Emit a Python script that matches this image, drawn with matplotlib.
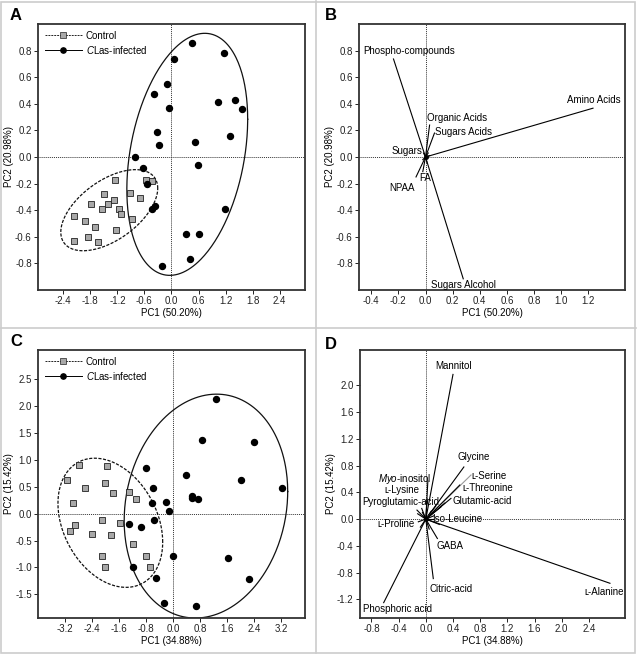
import matplotlib
matplotlib.use('Agg')
import matplotlib.pyplot as plt
from matplotlib.lines import Line2D
from matplotlib.patches import Rectangle
import numpy as np

plt.rcParams['font.family'] = ['Liberation Sans', 'DejaVu Sans']
plt.rcParams['mathtext.fontset'] = 'custom'
plt.rcParams['mathtext.rm'] = 'Liberation Sans'
plt.rcParams['mathtext.it'] = 'Liberation Sans:italic'

# ---- panel A scores (GC-MS classes)
a_ctrl_x = [-2.17, -2.17, -1.92, -1.86, -1.78, -1.69, -1.63, -1.55, -1.49, -1.40,
            -1.27, -1.25, -1.24, -1.17, -1.12, -0.92, -0.88, -0.70, -0.56, -0.44]
a_ctrl_y = [-0.44, -0.63, -0.48, -0.605, -0.35, -0.53, -0.64, -0.39, -0.28, -0.355,
            -0.32, -0.175, -0.55, -0.39, -0.43, -0.27, -0.47, -0.31, -0.17, -0.18]
a_inf_x = [0.45, 1.17, 0.06, -0.10, -0.38, -0.06, 1.04, 1.41, 1.56, -0.33, -0.27, 0.52,
           1.29, -0.80, 0.58, -0.64, -0.54, -0.37, -0.43, 1.18, 0.33, 0.62, 0.42, -0.21]
a_inf_y = [0.86, 0.785, 0.74, 0.55, 0.475, 0.37, 0.41, 0.43, 0.36, 0.19, 0.09, 0.11,
           0.155, 0.0, -0.06, -0.085, -0.20, -0.37, -0.39, -0.39, -0.58, -0.58, -0.77, -0.82]
# ellipses: center x, center y, half width, half height, correlation
a_ctrl_ell = (-1.38, -0.40, 1.075, 0.305, 0.54)
a_inf_ell = (0.35, 0.02, 1.34, 0.91, 0.29)

# ---- panel B loadings
b_names = ['Phospho-compounds', 'Sugars Alcohol', 'Amino Acids', 'Organic Acids',
           'Sugars Acids', 'Sugars', 'NPAA', 'FA']
b_x = [-0.236, 0.278, 1.234, 0.03, 0.066, -0.015, -0.07, -0.02]
b_y = [0.737, -0.916, 0.367, 0.24, 0.18, 0.03, -0.15, -0.11]
b_lab = [(-0.46, 0.795, 'left'), (0.04, -0.966, 'left'), (1.04, 0.425, 'left'),
         (0.01, 0.29, 'left'), (0.07, 0.19, 'left'), (-0.02, 0.045, 'right'),
         (-0.08, -0.23, 'right'), (-0.045, -0.16, 'left')]

# ---- panel C scores (NMR metabolites)
c_ctrl_x = [-2.80, -1.97, -3.14, -2.01, -2.62, -1.78, -1.32, -2.96, -1.09, -2.92,
            -3.04, -2.11, -1.57, -2.41, -1.83, -1.18, -2.12, -0.81, -2.01, -0.69]
c_ctrl_y = [0.90, 0.88, 0.62, 0.57, 0.47, 0.39, 0.40, 0.205, 0.27, -0.22,
            -0.32, -0.11, -0.17, -0.37, -0.39, -0.57, -0.78, -0.78, -0.995, -1.0]
c_inf_x = [1.27, 0.85, 2.38, -0.80, 0.37, 2.02, 3.23, -0.61, 0.57, 0.57, 0.74, -0.62,
           -0.22, -0.11, -0.56, -1.32, -0.96, -0.01, 1.63, -1.19, -0.51, 2.23, -0.28, 0.67]
c_inf_y = [2.13, 1.37, 1.34, 0.84, 0.71, 0.62, 0.47, 0.47, 0.33, 0.29, 0.27, 0.205,
           0.21, 0.04, -0.12, -0.19, -0.24, -0.79, -0.82, -0.99, -1.20, -1.22, -1.66, -1.72]
c_ctrl_ell = (-1.86, -0.17, 1.55, 1.20, -0.30)
c_inf_ell = (0.97, 0.14, 2.42, 2.08, 0.13)

# ---- panel D loadings
d_names = ['Mannitol', 'ʟ-Alanine', 'Phosphoric acid', 'Citric-acid', 'GABA', 'Glycine',
           'ʟ-Serine', 'ʟ-Threonine', 'Glutamic-acid', 'Iso-Leucine', 'ʟ-Proline',
           'Pyroglutamic-acid', 'ʟ-Lysine', r'$\it{Myo}$-inositol']
d_x = [0.40, 2.71, -0.62, 0.11, 0.17, 0.56, 0.665, 0.50, 0.37, 0.11, -0.11, -0.13, -0.06, 0.03]
d_y = [2.165, -0.96, -1.25, -0.89, -0.29, 0.78, 0.66, 0.51, 0.31, 0.0, -0.04, 0.135, 0.16, 0.57]
d_lab = [(0.14, 2.29, 'left'), (2.33, -1.09, 'left'), (-0.93, -1.35, 'left'),
         (0.06, -1.05, 'left'), (0.15, -0.40, 'left'), (0.47, 0.93, 'left'),
         (0.675, 0.65, 'left'), (0.54, 0.47, 'left'), (0.39, 0.27, 'left'),
         (0.09, 0.0, 'left'), (-0.16, -0.08, 'right'), (-0.94, 0.25, 'left'),
         (-0.61, 0.43, 'left'), (-0.70, 0.60, 'left')]
# unlabeled minor loadings near the origin
d_minor_x = [0.08, 0.15, 0.22, 0.28, -0.05, 0.12, -0.08, 0.05, 0.20, -0.12, 0.02]
d_minor_y = [0.12, 0.20, 0.18, 0.24, 0.10, 0.05, -0.12, -0.15, -0.08, 0.08, 0.30]
b_minor_x = [0.02, -0.02, 0.01, 0.03]
b_minor_y = [0.03, -0.02, -0.04, 0.01]

FS = 7


def ellipse_pts(e):
    cx, cy, sx, sy, r = e
    t = np.linspace(0, 2 * np.pi, 300)
    return cx + sx * np.cos(t), cy + sy * (r * np.cos(t) + np.sqrt(1 - r * r) * np.sin(t))


def style_axes(ax, xlim, ylim, xt, yt, xlab, ylab):
    xt = np.round(xt, 2) + 0.0
    yt = np.round(yt, 2) + 0.0
    ax.set_xlim(xlim)
    ax.set_ylim(ylim)
    ax.set_xticks(xt)
    ax.set_yticks(yt)
    ax.set_xticklabels(['%.1f' % v if abs(v) > 1e-9 else '0.0' for v in xt], fontsize=FS)
    ax.set_yticklabels(['%.1f' % v if abs(v) > 1e-9 else '0.0' for v in yt], fontsize=FS)
    ax.tick_params(direction='out', length=3, width=0.7, pad=1.5, colors='#222222')
    for s in ax.spines.values():
        s.set_linewidth(1.3)
        s.set_color('#333333')
    ax.axhline(0, color='#333333', lw=0.7, ls=(0, (1, 1)), zorder=1)
    ax.axvline(0, color='#333333', lw=0.7, ls=(0, (1, 1)), zorder=1)
    ax.set_xlabel(xlab, fontsize=FS, labelpad=1)
    ax.set_ylabel(ylab, fontsize=FS, labelpad=1)


def scores(ax, cx, cy, ix, iy, ce, ie):
    ex, ey = ellipse_pts(ce)
    ax.plot(ex, ey, color='#111111', lw=0.9, ls=(0, (2.5, 1.2)), zorder=2)
    ex, ey = ellipse_pts(ie)
    ax.plot(ex, ey, color='#111111', lw=0.9, zorder=2)
    ax.plot(cx, cy, ls='none', marker='s', ms=4.2, mfc='#a8a8a8', mec='#222222', mew=0.6, zorder=3)
    ax.plot(ix, iy, ls='none', marker='o', ms=4.3, mfc='black', mec='black', zorder=3)
    h1 = Line2D([], [], color='#222222', lw=0.7, ls=(0, (2, 1)), marker='s', ms=3.8,
                mfc='#a8a8a8', mec='#222222', mew=0.5)
    h2 = Line2D([], [], color='black', lw=0.7, marker='o', ms=3.8, mfc='black')
    ax.legend([h1, h2], ['Control', r'$\it{C}$Las-infected'], loc='upper left', frameon=False,
              fontsize=FS, handlelength=3.8, handletextpad=0.4, borderaxespad=0.3,
              labelspacing=0.3)


def loadings(ax, xs, ys, names, labs, mx, my):
    for x, y in zip(mx, my):
        ax.plot([0, x], [0, y], color='black', lw=0.8, zorder=2)
    for x, y, n, (lx, ly, ha) in zip(xs, ys, names, labs):
        c = '#999999' if 'Serine' in n else 'black'
        ax.plot([0, x], [0, y], color=c, lw=0.8, zorder=2)
        ax.text(lx, ly, n, fontsize=FS, ha=ha, va='center', zorder=4)
    ax.plot([0], [0], marker='o', ms=2.5, color='black', zorder=3)


fig = plt.figure(figsize=(6.37, 6.54), dpi=100)

axA = fig.add_axes([0.0597, 0.5566, 0.419, 0.4067])
axB = fig.add_axes([0.5636, 0.5566, 0.4176, 0.4067])
axC = fig.add_axes([0.0597, 0.0550, 0.419, 0.4098])
axD = fig.add_axes([0.5650, 0.0550, 0.4160, 0.4098])

scores(axA, a_ctrl_x, a_ctrl_y, a_inf_x, a_inf_y, a_ctrl_ell, a_inf_ell)
style_axes(axA, (-2.96, 2.96), (-1.0, 1.0), np.arange(-2.4, 2.41, 0.6),
           np.arange(-0.8, 0.81, 0.2), 'PC1 (50.20%)', 'PC2 (20.98%)')

loadings(axB, b_x, b_y, b_names, b_lab, b_minor_x, b_minor_y)
style_axes(axB, (-0.49, 1.47), (-1.0, 1.0), np.arange(-0.4, 1.21, 0.2),
           np.arange(-0.8, 0.81, 0.2), 'PC1 (50.20%)', 'PC2 (20.98%)')

scores(axC, c_ctrl_x, c_ctrl_y, c_inf_x, c_inf_y, c_ctrl_ell, c_inf_ell)
style_axes(axC, (-4.0, 3.9), (-1.94, 3.04), np.arange(-3.2, 3.21, 0.8),
           np.arange(-1.5, 2.51, 0.5), 'PC1 (34.88%)', 'PC2 (15.42%)')

loadings(axD, d_x, d_y, d_names, d_lab, d_minor_x, d_minor_y)
style_axes(axD, (-0.97, 2.93), (-1.48, 2.53), np.arange(-0.8, 2.41, 0.4),
           np.arange(-1.2, 2.01, 0.4), 'PC1 (34.88%)', 'PC2 (15.42%)')

# panel letters
for x, y, s in [(10, 15, 'A'), (325, 15, 'B'), (10, 342, 'C'), (325, 345, 'D')]:
    fig.text(x / 637, 1 - y / 654, s, fontsize=12, fontweight='bold', va='center', ha='left')

# light gray panel frames
g = '#cccccc'
fig.add_artist(Rectangle((1 / 637, 1 / 654), 634 / 637, 651 / 654, transform=fig.transFigure,
                         fill=False, ec=g, lw=1.2))
fig.add_artist(Line2D([316 / 637, 316 / 637], [1 / 654, 653 / 654], transform=fig.transFigure,
                      color=g, lw=1.2))
fig.add_artist(Line2D([1 / 637, 636 / 637], [1 - 328 / 654, 1 - 328 / 654], transform=fig.transFigure,
                      color=g, lw=1.2))

fig.savefig('out.png', dpi=100)
